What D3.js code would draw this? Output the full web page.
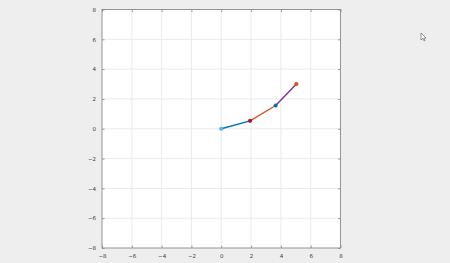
<!DOCTYPE html>
<html>
<head>
<meta charset="utf-8">
<script src="https://cdn.jsdelivr.net/npm/d3@7"></script>
<style>
  html, body { margin: 0; padding: 0; background: #efeeef; }
  svg { display: block; }
  .tick text { font-family: "DejaVu Sans", sans-serif; font-size: 5.5px; fill: #3a3a3a; }
</style>
</head>
<body>
<div id="chart"></div>
<script>
// path points (x, y)
const xs = [0, 1.93, 3.65, 5.04];
const ys = [0, 0.53, 1.56, 3.0];
// segment colours and marker colours (MATLAB default order)
const segColors = ['#0072bd', '#d95319', '#7e2f8e'];
const markerColors = ['#4dbeee', '#a2142f', '#0072bd', '#d95319'];
const tickValues = [-8, -6, -4, -2, 0, 2, 4, 6, 8];

const width = 450, height = 263;
const box = {left: 102, top: 9.5, size: 238.5};

const svg = d3.select('#chart').append('svg')
  .attr('width', width)
  .attr('height', height);

const x = d3.scaleLinear().domain([-8, 8]).range([box.left, box.left + box.size]);
const y = d3.scaleLinear().domain([-8, 8]).range([box.top + box.size, box.top]);

svg.append('rect')
  .attr('x', box.left).attr('y', box.top)
  .attr('width', box.size).attr('height', box.size)
  .attr('fill', '#ffffff');

// grid
svg.append('g').selectAll('line.gx')
  .data(tickValues.slice(1, -1))
  .enter().append('line')
  .attr('x1', d => x(d)).attr('x2', d => x(d))
  .attr('y1', box.top).attr('y2', box.top + box.size)
  .attr('stroke', '#e6e6e6').attr('stroke-width', 0.8);
svg.append('g').selectAll('line.gy')
  .data(tickValues.slice(1, -1))
  .enter().append('line')
  .attr('y1', d => y(d)).attr('y2', d => y(d))
  .attr('x1', box.left).attr('x2', box.left + box.size)
  .attr('stroke', '#e6e6e6').attr('stroke-width', 0.8);

// axes with inward ticks
svg.append('g')
  .attr('color', '#3a3a3a')
  .attr('transform', `translate(0,${box.top + box.size})`)
  .call(d3.axisBottom(x).tickValues(tickValues).tickSizeInner(-2.5).tickSizeOuter(0).tickPadding(6));
svg.append('g')
  .attr('color', '#3a3a3a')
  .attr('transform', `translate(${box.left},0)`)
  .call(d3.axisLeft(y).tickValues(tickValues).tickSizeInner(-2.5).tickSizeOuter(0).tickPadding(6));
svg.append('g')
  .attr('transform', `translate(0,${box.top})`)
  .call(d3.axisTop(x).tickValues(tickValues).tickSizeInner(-2.5).tickSizeOuter(0).tickFormat(''));
svg.append('g')
  .attr('transform', `translate(${box.left + box.size},0)`)
  .call(d3.axisRight(y).tickValues(tickValues).tickSizeInner(-2.5).tickSizeOuter(0).tickFormat(''));
svg.selectAll('.domain').attr('stroke', 'none');
svg.selectAll('.tick line').attr('stroke', '#777').attr('stroke-width', 0.7);

svg.append('rect')
  .attr('x', box.left).attr('y', box.top)
  .attr('width', box.size).attr('height', box.size)
  .attr('fill', 'none')
  .attr('stroke', '#8a8a8a').attr('stroke-width', 0.9);

// segments
const segs = d3.range(xs.length - 1).map(i => ({i, x1: xs[i], y1: ys[i], x2: xs[i + 1], y2: ys[i + 1]}));
svg.append('g').selectAll('line')
  .data(segs)
  .enter().append('line')
  .attr('x1', d => x(d.x1)).attr('y1', d => y(d.y1))
  .attr('x2', d => x(d.x2)).attr('y2', d => y(d.y2))
  .attr('stroke', d => segColors[d.i])
  .attr('stroke-width', 1.4);

// markers
svg.append('g').selectAll('circle')
  .data(xs)
  .enter().append('circle')
  .attr('cx', d => x(d))
  .attr('cy', (d, i) => y(ys[i]))
  .attr('r', 1.8)
  .attr('fill', (d, i) => markerColors[i])
  .attr('stroke', (d, i) => d3.color(markerColors[i]).darker(0.3))
  .attr('stroke-width', 0.5);

// mouse pointer
svg.append('path')
  .attr('d', 'M421,33 L421,40 L422.8,38.4 L424.2,41 L425,40.6 L423.8,38 L426,38 Z')
  .attr('fill', '#fff')
  .attr('stroke', '#555')
  .attr('stroke-width', 0.6);
</script>
</body>
</html>
